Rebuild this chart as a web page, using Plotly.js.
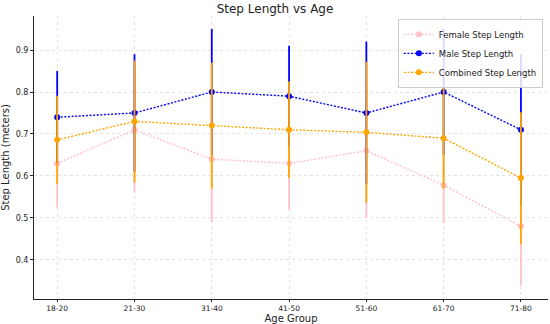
<!DOCTYPE html>
<html><head><meta charset="utf-8">
<script src="https://cdn.plot.ly/plotly-3.0.1.min.js"></script>
<style>html,body{margin:0;padding:0;background:#fff}#chart{width:550px;height:324px}</style>
</head><body><div id="chart"></div>
<script>
const ageGroups = ["18-20","21-30","31-40","41-50","51-60","61-70","71-80"];
const femaleMean = [0.63, 0.71, 0.64, 0.63, 0.66, 0.578, 0.48];
const femaleErr  = [0.105, 0.15, 0.15, 0.11, 0.16, 0.09, 0.14];
const maleMean   = [0.74, 0.75, 0.80, 0.79, 0.75, 0.80, 0.71];
const maleErr    = [0.11, 0.14, 0.15, 0.12, 0.17, 0.15, 0.18];
const combMean   = [0.686, 0.73, 0.72, 0.71, 0.704, 0.69, 0.595];
const combErr    = [0.105, 0.145, 0.15, 0.115, 0.168, 0.12, 0.157];

function tr(name, y, err, color){
  return {x: ageGroups, y: y, name: name, type:'scatter', mode:'lines+markers',
    line:{color:color, width:1.4, dash:'2px,1.6px'}, marker:{color:color, size:6},
    error_y:{type:'data', array:err, visible:true, color:color, thickness:1.8, width:0}};
}
const data = [
  tr('Female Step Length', femaleMean, femaleErr, 'pink'),
  tr('Male Step Length', maleMean, maleErr, 'blue'),
  tr('Combined Step Length', combMean, combErr, 'orange')
];
const layout = {
  width:550, height:324, margin:{l:34, r:2, t:16, b:25},
  paper_bgcolor:'#fff', plot_bgcolor:'#fff',
  font:{family:'DejaVu Sans', size:9, color:'#222'},
  title:{text:'Step Length vs Age', font:{size:12, color:'#222'}, x:0.5, xanchor:'center', y:0.985, yanchor:'top'},
  xaxis:{title:{text:'Age Group', font:{size:10}, standoff:0}, range:[-0.3,6.35], automargin:false,
    showline:true, linecolor:'#222', linewidth:1, ticks:'outside', ticklen:2, tickcolor:'#222',
    showgrid:true, gridcolor:'#e4e4e4', griddash:'dot', zeroline:false, tickfont:{size:7.5}},
  yaxis:{title:{text:'Step Length (meters)', font:{size:10}, standoff:4}, range:[0.307,0.981],
    tickvals:[0.4,0.5,0.6,0.7,0.8,0.9], ticktext:['0.4','0.5','0.6','0.7','0.8','0.9'],
    showline:true, linecolor:'#222', linewidth:1, ticks:'outside', ticklen:3, tickcolor:'#222',
    showgrid:true, gridcolor:'#e4e4e4', griddash:'dot', zeroline:false, tickfont:{size:8}},
  legend:{x:0.99, y:0.99, xanchor:'right', yanchor:'top', bgcolor:'rgba(255,255,255,0.85)',
    bordercolor:'#ccc', borderwidth:1, font:{size:8.5}, tracegroupgap:0, itemwidth:30},
  showlegend:true
};
Plotly.newPlot('chart', data, layout, {displayModeBar:false, staticPlot:true});
</script></body></html>
